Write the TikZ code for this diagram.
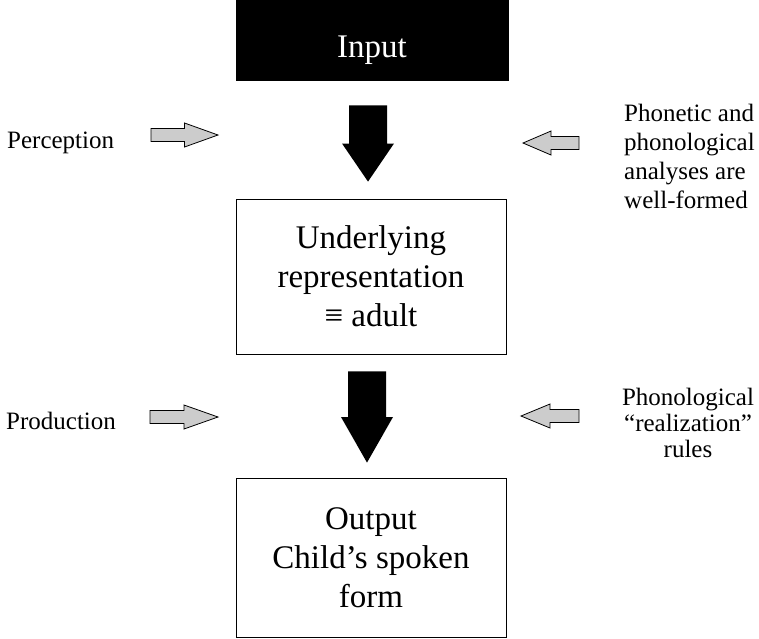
\documentclass[tikz,border=0pt]{standalone}
\usepackage{fontspec}
\setmainfont{Liberation Serif}
\usetikzlibrary{calc}

\tikzstyle{box} = [draw, line width=0.8pt, minimum width=270pt, align=center, font=\fontsize{33}{39}\selectfont]

\begin{document}
\begin{tikzpicture}[x=1pt,y=-1pt,
		side/.style={inner sep=0pt, font=\fontsize{25}{29}\selectfont},
		flow/.style 2 args={to path={
				($(\tikztostart)!#1!90:(\tikztotarget)$) --
				($(\tikztostart)!.5!(\tikztotarget)!#1!90:(\tikztotarget)$) --
				($(\tikztostart)!.5!(\tikztotarget)!#2!90:(\tikztotarget)$) --
				(\tikztotarget) --
				($(\tikztostart)!.5!(\tikztotarget)!#2!-90:(\tikztotarget)$) --
				($(\tikztostart)!.5!(\tikztotarget)!#1!-90:(\tikztotarget)$) --
				($(\tikztostart)!#1!-90:(\tikztotarget)$) -- cycle}},
		big/.style={fill=black, flow={19pt}{26pt}},
		small/.style={draw, fill=gray!40, line width=0.8pt, flow={6.5pt}{12pt}}]
	\useasboundingbox (0,0) rectangle (759,638);
	
	\node (in)[box, fill=black, text=white, minimum width=272pt, inner ysep=0pt, text height=57pt, text depth=23pt] at (372,40) {Input};
	\node (ur)[box, minimum height=155pt] at (371,276.5) {Underlying\\representation\\≡ adult};
	\node (out)[box, minimum height=159pt] at (371,557.5) {Output\\Child’s spoken\\form};
	
	\node (perc)[side, anchor=base west] at (7,148) {Perception};
	\node (prod)[side, anchor=base west] at (6,429) {Production};
	\node (phon)[side, align=left, anchor=west] at (624,156.5) {Phonetic and\\phonological\\analyses are\\well-formed};
	\node (rule)[side, align=center, font=\fontsize{25}{26}\selectfont] at (688,423) {Phonological\\“realization”\\rules};
	
	% big arrows between the boxes
	\coordinate (t1) at ($(in.south)+(-4,25)$);
	\coordinate (t2) at ($(ur.north)+(-3,-17)$);
	\coordinate (u1) at ($(ur.south)+(-4,17)$);
	\coordinate (u2) at ($(out.north)+(-4,-15)$);
	\path[big] (t1) to (t2);
	\path[big] (u1) to (u2);
	
	% grey side arrows
	\coordinate (p1) at (151,135); \coordinate (p2) at (218,135);
	\coordinate (q1) at (579,143); \coordinate (q2) at (523,143);
	\coordinate (r1) at (150,417); \coordinate (r2) at (218,417);
	\coordinate (s1) at (579,416); \coordinate (s2) at (521,416);
	\path[small] (p1) to (p2);
	\path[small] (q1) to (q2);
	\path[small] (r1) to (r2);
	\path[small] (s1) to (s2);
\end{tikzpicture}
\end{document}
